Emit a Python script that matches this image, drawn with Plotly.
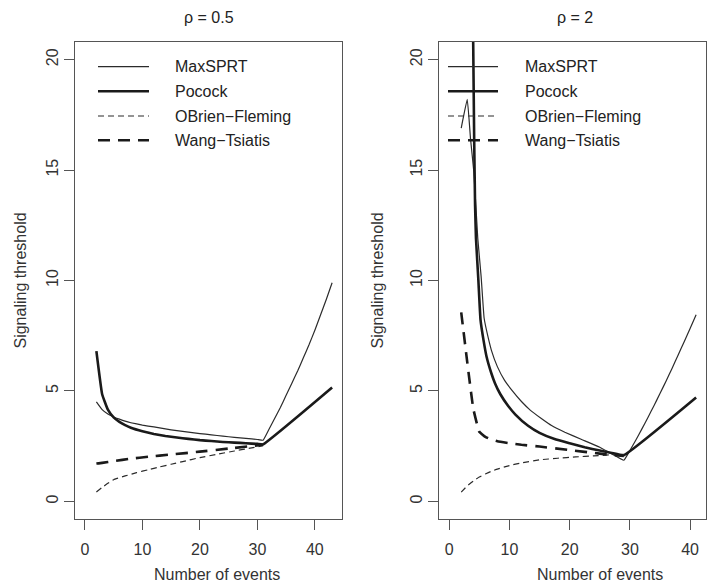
import plotly.graph_objects as go

# ---------------- data ----------------
# Panel A: rho = 0.5
maxsprt_a_x = [2, 3, 4, 5, 6, 7, 8, 10, 12, 14, 16, 18, 20, 22, 24, 26, 28, 30, 31,
               32, 33, 34, 35, 36, 37, 38, 39, 40, 41, 42, 43]
maxsprt_a_y = [4.50, 4.15, 3.95, 3.82, 3.72, 3.63, 3.56, 3.45, 3.37, 3.28, 3.20, 3.13, 3.07,
               3.01, 2.95, 2.90, 2.85, 2.80, 2.77,
               3.25, 3.75, 4.25, 4.80, 5.35, 5.90, 6.50, 7.10, 7.75, 8.45, 9.15, 9.90]
pocock_a_x = [2, 3, 4, 5, 6, 7, 8, 10, 12, 14, 16, 18, 20, 22, 24, 26, 28, 30, 31, 43]
pocock_a_y = [6.80, 4.85, 4.15, 3.80, 3.60, 3.45, 3.33, 3.17, 3.05, 2.96, 2.89, 2.83, 2.77,
              2.73, 2.69, 2.66, 2.63, 2.60, 2.58, 5.15]
obf_a_x = [2, 3, 4, 5, 7, 9, 11, 13, 15, 17, 20, 23, 26, 29, 31]
obf_a_y = [0.42, 0.63, 0.82, 0.98, 1.15, 1.30, 1.43, 1.56, 1.68, 1.80, 1.98, 2.13, 2.28, 2.42, 2.52]
wt_a_x = [2, 3, 5, 8, 11, 15, 20, 25, 31]
wt_a_y = [1.71, 1.74, 1.82, 1.93, 2.02, 2.12, 2.25, 2.39, 2.56]

# Panel B: rho = 2
maxsprt_b_x = [2, 3, 3.55, 4.1, 4.75, 5.3, 5.8, 6.4, 7.0, 8.0, 9.2, 10.5, 12, 13.5, 15.3,
               17, 19.2, 22, 25, 27, 29,
               30, 31, 32, 33, 34, 35, 36, 37, 38, 39, 40, 41]
maxsprt_b_y = [16.9, 18.2, 16.4, 14.9, 11.9, 10.2, 8.3, 7.5, 6.85, 6.1, 5.48, 5.0, 4.52,
               4.12, 3.75, 3.43, 3.13, 2.8, 2.45, 2.15, 1.86,
               2.30, 2.78, 3.28, 3.80, 4.33, 4.88, 5.44, 6.02, 6.62, 7.22, 7.83, 8.45]
pocock_b_x = [3.96, 4.15, 4.3, 4.45, 4.85, 5.2, 5.7, 6.2, 7.0, 7.6, 8.5, 9.8, 11, 13.1, 15,
              17.5, 20, 22.5, 25, 27, 29, 41]
pocock_b_y = [21.5, 16.4, 13.4, 11.9, 10.0, 8.23, 7.3, 6.56, 5.8, 5.35, 4.85, 4.32, 3.93,
              3.42, 3.1, 2.82, 2.63, 2.45, 2.3, 2.19, 2.09, 4.70]
obf_b_x = [2, 3, 4, 5, 6, 7, 8, 10, 12, 15, 18, 21, 24, 27, 29]
obf_b_y = [0.42, 0.70, 0.92, 1.10, 1.24, 1.36, 1.46, 1.62, 1.74, 1.88, 1.95, 2.01, 2.06, 2.11, 2.13]
wt_b_x = [2, 3, 4, 5, 6, 7, 8, 10, 12, 15, 20, 25, 29]
wt_b_y = [8.56, 6.30, 4.20, 3.15, 2.92, 2.80, 2.72, 2.63, 2.56, 2.48, 2.32, 2.16, 2.05]

series_names = ["MaxSPRT", "Pocock", "OBrien\u2212Fleming", "Wang\u2212Tsiatis"]
panel_titles = ["\u03c1 = 0.5", "\u03c1 = 2"]
x_title = "Number of events"
y_title = "Signaling threshold"
x_ticks = [0, 10, 20, 30, 40]
y_ticks = [0, 5, 10, 15, 20]

# ---------------- styles ----------------
FONT = "Liberation Sans, Arial, sans-serif"
styles = {
    "MaxSPRT": dict(width=1.2, dash="solid", color="#2b2b2b"),
    "Pocock": dict(width=2.6, dash="solid", color="#1a1a1a"),
    "OBrien\u2212Fleming": dict(width=1.2, dash="6px,4px", color="#2b2b2b"),
    "Wang\u2212Tsiatis": dict(width=2.6, dash="12px,8px", color="#1a1a1a"),
}

panels = [
    ("x", "y", [(maxsprt_a_x, maxsprt_a_y), (pocock_a_x, pocock_a_y),
                (obf_a_x, obf_a_y), (wt_a_x, wt_a_y)]),
    ("x2", "y2", [(maxsprt_b_x, maxsprt_b_y), (pocock_b_x, pocock_b_y),
                  (obf_b_x, obf_b_y), (wt_b_x, wt_b_y)]),
]

fig = go.Figure()
for xa, ya, data in panels:
    for name, (xs, ys) in zip(series_names, data):
        fig.add_trace(go.Scatter(x=xs, y=ys, xaxis=xa, yaxis=ya, mode="lines",
                                 line=dict(shape="spline", smoothing=0.3, **styles[name]),
                                 name=name, showlegend=False, hoverinfo="skip"))

W, H = 709, 584
ML, MR, MT, MB = 75, 3, 42, 65
PW = W - ML - MR
PH = H - MT - MB

def fx(px):
    return (px - ML) / PW

def fy(py):
    return (H - MB - py) / PH

axis_common = dict(showline=True, mirror=True, linecolor="#555555", linewidth=1,
                   ticks="outside", ticklen=10, tickwidth=1, tickcolor="#555555",
                   showgrid=False, zeroline=False,
                   tickfont=dict(family=FONT, size=16, color="#333333"))

dom_a = [fx(75), fx(342)]
dom_b = [fx(439.3), 1.0]

fig.update_layout(
    width=W, height=H, margin=dict(l=ML, r=MR, t=MT, b=MB),
    paper_bgcolor="white", plot_bgcolor="white",
    font=dict(family=FONT, size=16, color="#333333"),
    xaxis=dict(domain=dom_a, range=[-1.72, 44.72], tickvals=x_ticks, anchor="y",
               ticklabelstandoff=6, **axis_common),
    yaxis=dict(domain=[0, 1], range=[-0.8, 20.8], tickvals=y_ticks, anchor="x",
               tickangle=-90, ticklabelstandoff=0, **axis_common),
    xaxis2=dict(domain=dom_b, range=[-1.64, 42.64], tickvals=x_ticks, anchor="y2",
                ticklabelstandoff=6, **axis_common),
    yaxis2=dict(domain=[0, 1], range=[-0.8, 20.8], tickvals=y_ticks, anchor="x2",
                tickangle=-90, ticklabelstandoff=0, **axis_common),
)

shapes = []
annotations = []
legend_rows_px = [66.7, 91.3, 116.0, 140.3]
legend_cfg = [("x domain", "y domain", 98, 149, 173, 75, 342),
              ("x2 domain", "y2 domain", 448, 498, 523, 439.3, 706)]
for xr, yr, l0, l1, tx, b0, b1 in legend_cfg:
    for name, rpx in zip(series_names, legend_rows_px):
        yy = (H - MB - rpx) / PH
        st = styles[name]
        shapes.append(dict(type="line", xref=xr, yref=yr,
                           x0=(l0 - b0) / (b1 - b0), x1=(l1 - b0) / (b1 - b0),
                           y0=yy, y1=yy,
                           line=dict(width=st["width"], dash=st["dash"], color=st["color"])))
        annotations.append(dict(text=name, xref=xr, yref=yr, x=(tx - b0) / (b1 - b0), y=yy,
                                xanchor="left", yanchor="middle", showarrow=False,
                                font=dict(family=FONT, size=16, color="#222222")))

# panel titles
for t, cx in zip(panel_titles, [209, 575]):
    annotations.append(dict(text=t, xref="paper", yref="paper", x=fx(cx), y=fy(17),
                            xanchor="center", yanchor="middle", showarrow=False,
                            font=dict(family=FONT, size=16, color="#222222")))
# axis titles
for cx in [216.8, 600]:
    annotations.append(dict(text=x_title, xref="paper", yref="paper", x=fx(cx), y=fy(574),
                            xanchor="center", yanchor="middle", showarrow=False,
                            font=dict(family=FONT, size=16, color="#333333")))
for cx in [20, 377]:
    annotations.append(dict(text=y_title, xref="paper", yref="paper", x=fx(cx), y=fy(280.5),
                            xanchor="center", yanchor="middle", showarrow=False, textangle=-90,
                            font=dict(family=FONT, size=16, color="#333333")))

fig.update_layout(shapes=shapes, annotations=annotations)
fig.write_html("out.html", config={"displayModeBar": False},
               post_script="document.body.style.margin='0';"
                           "document.body.style.overflow='hidden';")
